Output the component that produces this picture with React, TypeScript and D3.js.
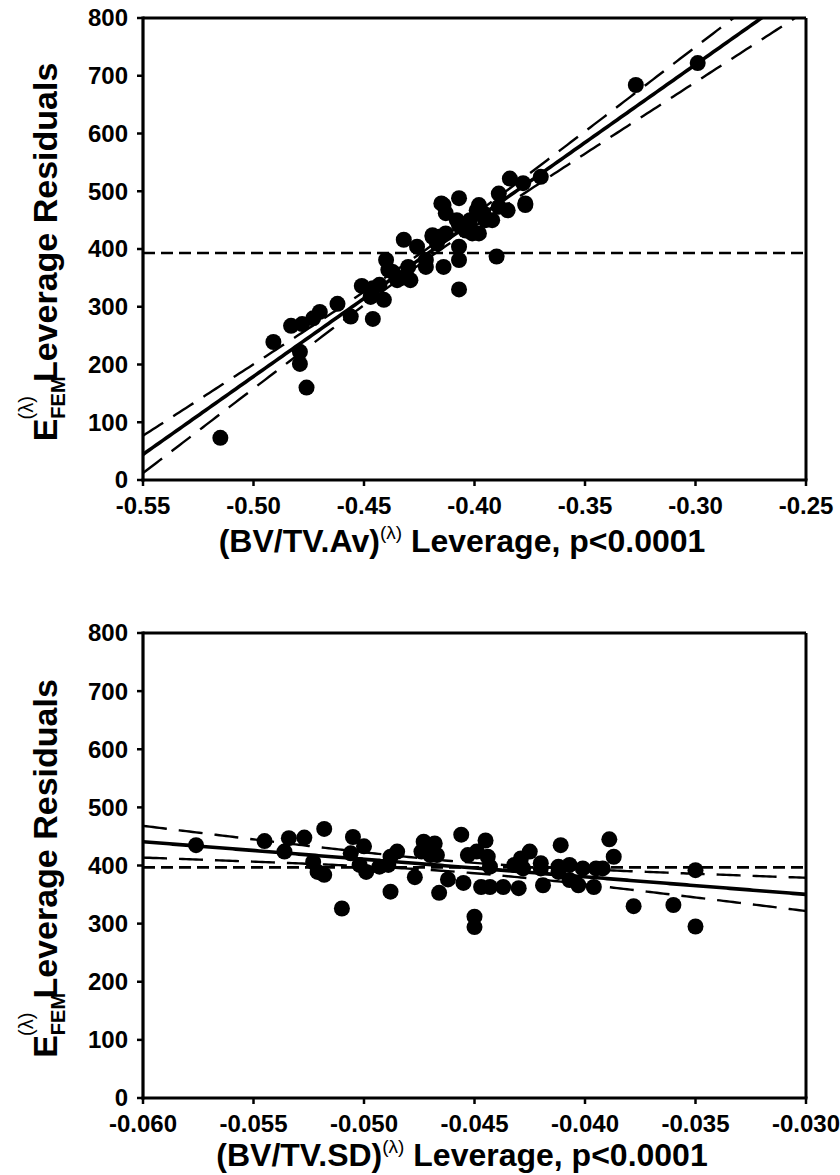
import React from 'react';
import * as d3 from 'd3';

// ---------- data ----------
const topX = [
  -0.515, -0.491, -0.483, -0.478, -0.479, -0.479, -0.476, -0.473, -0.470, -0.462,
  -0.456, -0.446, -0.451, -0.447, -0.441, -0.440, -0.439, -0.443, -0.446, -0.432,
  -0.429, -0.435, -0.430, -0.426, -0.422, -0.419, -0.422, -0.414, -0.416, -0.413,
  -0.407, -0.407, -0.407, -0.390, -0.401, -0.398, -0.392, -0.385, -0.377, -0.414,
  -0.413, -0.408, -0.402, -0.396, -0.389, -0.415, -0.407, -0.399, -0.398, -0.389,
  -0.384, -0.378, -0.377, -0.370, -0.419, -0.407, -0.395, -0.327, -0.299, -0.437,
  -0.433, -0.417, -0.404,
];
const topY = [
  73, 239, 267, 270, 222, 201, 160, 280, 291, 305,
  283, 279, 336, 317, 312, 381, 364, 338, 332, 416,
  346, 346, 369, 404, 369, 421, 381, 369, 421, 427,
  381, 330, 404, 387, 427, 427, 450, 467, 476, 476,
  462, 450, 450, 462, 473, 479, 488, 467, 476, 496,
  522, 514, 479, 525, 424, 441, 450, 684, 722, 360,
  350, 410, 432,
];

const botX = [
  -0.0576, -0.0545, -0.0534, -0.0536, -0.0527, -0.0518, -0.0523, -0.0521, -0.0518, -0.0510,
  -0.0505, -0.0506, -0.0500, -0.0502, -0.0499, -0.0493, -0.0488, -0.0485, -0.0489, -0.0488,
  -0.0477, -0.0473, -0.0474, -0.0468, -0.0470, -0.0467, -0.0466, -0.0462, -0.0456, -0.0453,
  -0.0455, -0.0445, -0.0450, -0.0450, -0.0447, -0.0443, -0.0437, -0.0430, -0.0419, -0.0403,
  -0.0396, -0.0407, -0.0412, -0.0401, -0.0395, -0.0392, -0.0420, -0.0428, -0.0443, -0.0411,
  -0.0389, -0.0387, -0.0425, -0.0429, -0.0420, -0.0412, -0.0407, -0.0444, -0.0449, -0.0432,
  -0.0378, -0.0360, -0.0350, -0.0350,
];
const botY = [
  435, 442, 447, 424, 448, 463, 406, 389, 384, 326,
  449, 421, 433, 401, 389, 398, 415, 424, 401, 355,
  380, 441, 424, 438, 418, 418, 353, 376, 453, 418,
  370, 443, 312, 294, 363, 363, 363, 361, 366, 366,
  363, 375, 389, 395, 395, 395, 395, 395, 398, 435,
  445, 415, 424, 412, 404, 398, 401, 415, 424, 401,
  330, 332, 295, 392,
];

const yTicks = [0, 100, 200, 300, 400, 500, 600, 700, 800];
const topXTicks = [-0.55, -0.5, -0.45, -0.4, -0.35, -0.3, -0.25];
const botXTicks = [-0.06, -0.055, -0.05, -0.045, -0.04, -0.035, -0.03];

const FONT = '"Liberation Sans", Arial, Helvetica, sans-serif';

function regress(xs: number[], ys: number[]) {
  const n = xs.length;
  const xm = d3.mean(xs) as number;
  const ym = d3.mean(ys) as number;
  let sxx = 0, sxy = 0;
  for (let i = 0; i < n; i++) {
    sxx += (xs[i] - xm) ** 2;
    sxy += (xs[i] - xm) * (ys[i] - ym);
  }
  const b = sxy / sxx;
  const a = ym - b * xm;
  let sse = 0;
  for (let i = 0; i < n; i++) sse += (ys[i] - (a + b * xs[i])) ** 2;
  const s = Math.sqrt(sse / (n - 2));
  return { n, xm, ym, sxx, a, b, s };
}

type PanelProps = {
  id: string;
  xs: number[];
  ys: number[];
  xDomain: [number, number];
  xTicks: number[];
  fmt: (v: number) => string;
  top: number;
  bottom: number;
  xLabel: string;
  titleY: number;
};

const LEFT = 143;
const RIGHT = 806;

function Panel({ id, xs, ys, xDomain, xTicks, fmt, top, bottom, xLabel, titleY }: PanelProps) {
  const x = d3.scaleLinear().domain(xDomain).range([LEFT, RIGHT]);
  const y = d3.scaleLinear().domain([0, 800]).range([bottom, top]);
  const r = regress(xs, ys);
  const t = 2.0;
  const samples = d3.range(0, 201).map((i) => xDomain[0] + (i / 200) * (xDomain[1] - xDomain[0]));
  const fit = (v: number) => r.a + r.b * v;
  const half = (v: number) => t * r.s * Math.sqrt(1 / r.n + (v - r.xm) ** 2 / r.sxx);
  const line = d3
    .line<number[]>()
    .x((d) => x(d[0]))
    .y((d) => y(d[1]));
  const fitPath = line(samples.map((v) => [v, fit(v)]));
  const upPath = line(samples.map((v) => [v, fit(v) + half(v)]));
  const loPath = line(samples.map((v) => [v, fit(v) - half(v)]));
  const midY = (top + bottom) / 2 + 3;
  return (
    <g>
      <defs>
        <clipPath id={id}>
          <rect x={LEFT} y={top} width={RIGHT - LEFT} height={bottom - top} />
        </clipPath>
      </defs>
      <g clipPath={`url(#${id})`}>
        <line x1={LEFT} x2={RIGHT} y1={y(r.ym)} y2={y(r.ym)} stroke="#000" strokeWidth={2.6} strokeDasharray="12,6" />
        <path d={upPath || ''} fill="none" stroke="#000" strokeWidth={2.4} strokeDasharray="24,12" />
        <path d={loPath || ''} fill="none" stroke="#000" strokeWidth={2.4} strokeDasharray="24,12" />
        <path d={fitPath || ''} fill="none" stroke="#000" strokeWidth={3.6} />
        {xs.map((v, i) => (
          <circle key={i} cx={x(v)} cy={y(ys[i])} r={8} fill="#000" />
        ))}
      </g>
      {/* frame */}
      <line x1={LEFT} x2={RIGHT} y1={top} y2={top} stroke="#000" strokeWidth={3} />
      <line x1={RIGHT} x2={RIGHT} y1={top} y2={bottom} stroke="#000" strokeWidth={3} />
      <line x1={LEFT} x2={LEFT} y1={top - 1.5} y2={bottom + 1.5} stroke="#000" strokeWidth={3.2} />
      <line x1={LEFT - 1.5} x2={RIGHT + 1.5} y1={bottom} y2={bottom} stroke="#000" strokeWidth={3.2} />
      {yTicks.map((v) => (
        <g key={v}>
          <line x1={LEFT - 6} x2={LEFT} y1={y(v)} y2={y(v)} stroke="#000" strokeWidth={2.5} />
          <text x={LEFT - 15} y={y(v)} dy="0.35em" textAnchor="end" fontFamily={FONT} fontWeight="bold" fontSize={24}>
            {v}
          </text>
        </g>
      ))}
      {xTicks.map((v) => (
        <g key={v}>
          <line x1={x(v)} x2={x(v)} y1={bottom} y2={bottom + 6} stroke="#000" strokeWidth={2.5} />
          <text x={x(v)} y={bottom + 34} textAnchor="middle" fontFamily={FONT} fontWeight="bold" fontSize={24}>
            {fmt(v)}
          </text>
        </g>
      ))}
      {/* x title */}
      <text x={462} y={titleY} textAnchor="middle" fontFamily={FONT} fontWeight="bold" fontSize={32}>
        {xLabel}
        <tspan fontSize={19} fontWeight="normal" dy={-13}>(λ)</tspan>
        <tspan dy={13}> Leverage, p&lt;0.0001</tspan>
      </text>
      {/* y title */}
      <text
        transform={`translate(57,${midY}) rotate(-90)`}
        textAnchor="middle"
        fontFamily={FONT}
        fontWeight="bold"
        fontSize={34}
      >
        E
        <tspan fontSize={20} dy={8}>FEM</tspan>
        <tspan fontSize={20} fontWeight="normal" dx={-43} dy={-32}>(λ)</tspan>
        <tspan dx={14} dy={24}>Leverage Residuals</tspan>
      </text>
    </g>
  );
}

const hyphen = (s: string) => s.replace('\u2212', '-');

export default function App() {
  return (
    <svg
      width={840}
      height={1175}
      style={{ position: 'absolute', left: 0, top: 0, background: '#fff' }}
    >
      <rect width={840} height={1175} fill="#fff" />
      <Panel
        id="clipTop"
        xs={topX}
        ys={topY}
        xDomain={[-0.55, -0.25]}
        xTicks={topXTicks}
        fmt={(v) => hyphen(d3.format('.2f')(v))}
        top={18}
        bottom={480}
        xLabel="(BV/TV.Av)"
        titleY={552}
      />
      <Panel
        id="clipBot"
        xs={botX}
        ys={botY}
        xDomain={[-0.06, -0.03]}
        xTicks={botXTicks}
        fmt={(v) => hyphen(d3.format('.3f')(v))}
        top={633}
        bottom={1098}
        xLabel="(BV/TV.SD)"
        titleY={1166}
      />
    </svg>
  );
}
